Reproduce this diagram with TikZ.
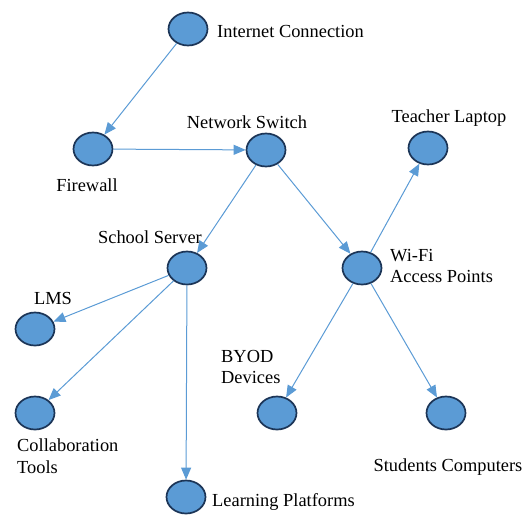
\documentclass[tikz,border=0pt]{standalone}
\usepackage{fontspec}
\setmainfont{Liberation Serif}
\usetikzlibrary{arrows.meta,shapes.geometric}
\definecolor{nodefill}{HTML}{5B9BD5}
\definecolor{nodeedge}{HTML}{1C3557}
\definecolor{linkblue}{HTML}{5B9BD5}
\begin{document}
\begin{tikzpicture}[x=1pt,y=-1pt,
  hub/.style={ellipse,draw=nodeedge,fill=nodefill,line width=1.7pt,
    minimum width=39pt,minimum height=33pt,inner sep=0pt},
  lbl/.style={font=\fontsize{18.4}{21.5}\selectfont,inner sep=0pt,align=left},
  link/.style={draw=linkblue,line width=1pt,-{Triangle[length=12pt,width=10pt]}}]
\useasboundingbox (0,0) rectangle (530,514);
% devices
\node[hub] (inet) at (188,29) {};
\node[hub] (fw) at (93,149) {};
\node[hub] (sw) at (266,150) {};
\node[hub] (srv) at (187,268) {};
\node[hub] (wifi) at (362,268) {};
\node[hub] (tl) at (428,148) {};
\node[hub] (lms) at (35,329) {};
\node[hub] (col) at (35,413) {};
\node[hub] (byod) at (277,413) {};
\node[hub] (stu) at (446,413) {};
\node[hub] (lp) at (186,497) {};
% labels
\node[lbl,anchor=west] (tinet) at (217,31) {Internet Connection};
\node[lbl] (tfw) at (87,185) {Firewall};
\node[lbl] (tsw) at (247,122) {Network Switch};
\node[lbl] (tsrv) at (150,237) {School Server};
\node[lbl,anchor=west] (twifi) at (390,266) {Wi-Fi\\Access Points};
\node[lbl] (ttl) at (449,118) {Teacher Laptop};
\node[lbl] (tlms) at (53,298) {LMS};
\node[lbl,anchor=west] (tbyod) at (221,367) {BYOD\\Devices};
\node[lbl,anchor=west] (tcol) at (17,456) {Collaboration\\Tools};
\node[lbl] (tstu) at (448,467) {Students Computers};
\node[lbl,anchor=west] (tlp) at (212,502) {Learning Platforms};
% links
\draw[link] (inet) -- (fw);
\draw[link] (fw) -- (sw);
\draw[link] (sw) -- (srv);
\draw[link] (sw) -- (wifi);
\draw[link] (wifi) -- (tl);
\draw[link] (srv) -- (lms);
\draw[link] (srv) -- (col);
\draw[link] (srv) -- (lp);
\draw[link] (wifi) -- (byod);
\draw[link] (wifi) -- (stu);
\end{tikzpicture}
\end{document}
